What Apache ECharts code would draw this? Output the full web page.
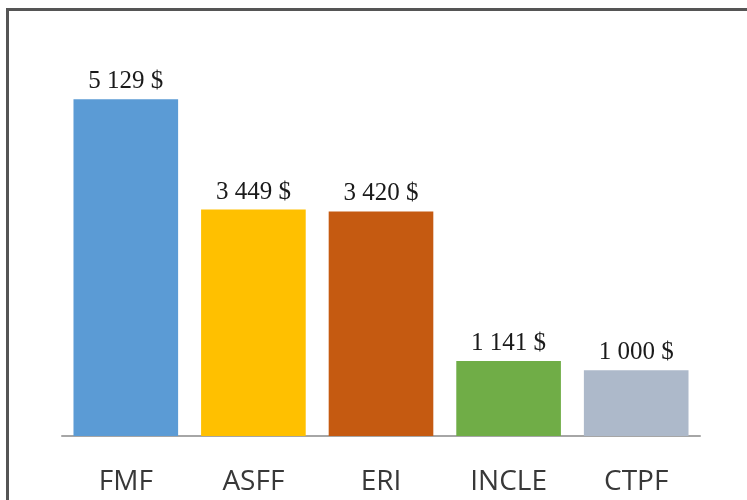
<!DOCTYPE html>
<html>
<head>
<meta charset="utf-8">
<script src="https://cdn.jsdelivr.net/npm/echarts@6/dist/echarts.min.js"></script>
<style>html,body{margin:0;padding:0;background:#fff}#c{width:747px;height:500px}</style>
</head>
<body>
<div id="c"></div>
<script>
var categories = ['FMF', 'ASFF', 'ERI', 'INCLE', 'CTPF'];
var values = [5129, 3449, 3420, 1141, 1000];
var barColors = ['#5b9bd5', '#ffc000', '#c55a11', '#70ad47', '#adb9ca'];

function fmt(v) {
  return String(v).replace(/\B(?=(\d{3})+(?!\d))/g, ' ') + ' $';
}

var chart = echarts.init(document.getElementById('c'));
chart.setOption({
  animation: false,
  backgroundColor: '#ffffff',
  graphic: [{
    type: 'rect',
    shape: { x: 7.5, y: 9.5, width: 800, height: 600 },
    style: { fill: 'none', stroke: '#555555', lineWidth: 3 },
    silent: true
  }],
  grid: { left: 62, right: 47, top: 42, bottom: 64 },
  xAxis: {
    type: 'category',
    data: categories,
    axisLine: { lineStyle: { color: '#a6a6a6', width: 2 } },
    axisTick: { show: false },
    axisLabel: {
      color: '#383838',
      fontFamily: 'Open Sans',
      fontSize: 28,
      margin: 32
    }
  },
  yAxis: {
    type: 'value',
    min: 0,
    max: 6000,
    show: false,
    splitLine: { show: false }
  },
  series: [{
    type: 'bar',
    barCategoryGap: '18%',
    data: values.map(function (v, i) {
      return { value: v, itemStyle: { color: barColors[i] } };
    }),
    label: {
      show: true,
      position: 'top',
      distance: 5,
      color: '#1a1a1a',
      fontFamily: 'Liberation Serif',
      fontSize: 25,
      formatter: function (p) { return fmt(p.value); }
    }
  }]
});
</script>
</body>
</html>
